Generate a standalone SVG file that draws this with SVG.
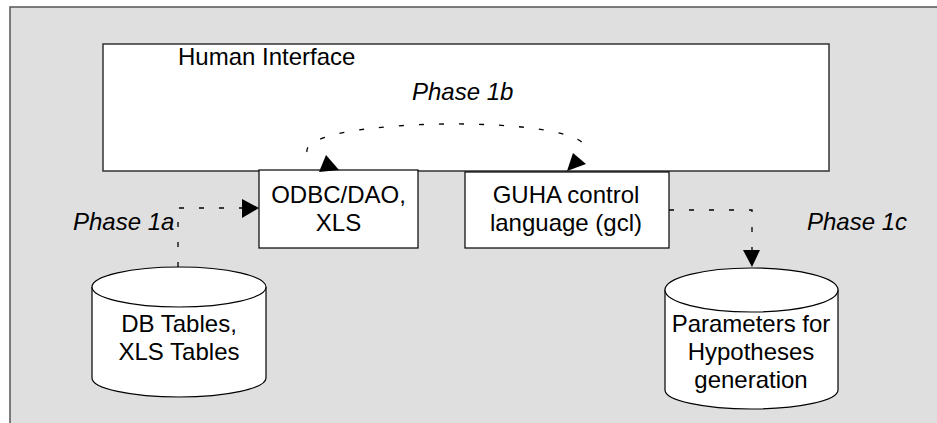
<svg xmlns="http://www.w3.org/2000/svg" width="937" height="423" viewBox="0 0 937 423">
  <style>
    .frame { fill: #dfdfdf; stroke: none; }
    .edge { stroke: #555; stroke-width: 1.5; fill: none; }
    .box { fill: #ffffff; stroke: #000; stroke-width: 1.2; }
    .hi { fill: #ffffff; stroke: #333; stroke-width: 1.5; }
    .drum { fill: #ffffff; stroke: #000; stroke-width: 1.2; }
    .lbl { font-family: "Liberation Sans", Arial, sans-serif; font-size: 24px; fill: #000; }
    .mid { text-anchor: middle; }
    .ital { font-style: italic; }
    .flow { fill: none; stroke: #000; stroke-width: 1.3; stroke-dasharray: 5 15; }
    .head { fill: #000; stroke: none; }
  </style>

  <!-- canvas frame -->
  <rect x="10" y="7" width="927" height="416" class="frame"/>
  <path d="M10,423 V7 H937" class="edge"/>

  <!-- human interface panel -->
  <g id="human-interface">
    <rect x="103" y="44" width="726" height="127" class="hi"/>
    <text x="178" y="65" class="lbl">Human Interface</text>
  </g>

  <!-- driver layer -->
  <g id="odbc">
    <rect x="259" y="170" width="159" height="78" class="box"/>
    <text x="338.5" y="203" class="lbl mid">ODBC/DAO,</text>
    <text x="338.5" y="231" class="lbl mid">XLS</text>
  </g>

  <g id="gcl">
    <rect x="465" y="172" width="204" height="76" class="box"/>
    <text x="566" y="203" class="lbl mid">GUHA control</text>
    <text x="566" y="231" class="lbl mid">language (gcl)</text>
  </g>

  <!-- data stores -->
  <g id="db-tables">
    <path d="M92,287 V378 A87,19 0 0 0 266,378 V287" class="drum"/>
    <ellipse cx="179" cy="287" rx="87" ry="20" class="drum"/>
    <text x="179" y="332" class="lbl mid">DB Tables,</text>
    <text x="179" y="360" class="lbl mid">XLS Tables</text>
  </g>

  <g id="parameters">
    <path d="M665,290 V390 A86.5,19 0 0 0 838,390 V290" class="drum"/>
    <ellipse cx="751.5" cy="290" rx="86.5" ry="22" class="drum"/>
    <text x="751" y="332" class="lbl mid">Parameters for</text>
    <text x="751" y="360" class="lbl mid">Hypotheses</text>
    <text x="751" y="388" class="lbl mid">generation</text>
  </g>

  <!-- phase labels -->
  <g id="phase-labels">
    <text x="412" y="100" class="lbl ital">Phase 1b</text>
    <text x="73" y="230" class="lbl ital">Phase 1a</text>
    <text x="807" y="230" class="lbl ital">Phase 1c</text>
  </g>

  <!-- connectors -->
  <g id="connectors">
    <!-- phase 1a: tables to ODBC -->
    <path d="M178,267 V208 H242" class="flow"/>
    <polygon points="242,199 259,208 242,218" class="head"/>

    <!-- phase 1b: loop between ODBC and gcl -->
    <path d="M307,152 C300,117 590,113 586,150" class="flow"/>
    <polygon points="326,155 319,172 339,170" class="head"/>
    <polygon points="573,153 586,164 567,171" class="head"/>

    <!-- phase 1c: gcl to parameters -->
    <path d="M669,210 H752 V250" class="flow"/>
    <polygon points="743,250 760,250 752,267" class="head"/>
  </g>
</svg>
